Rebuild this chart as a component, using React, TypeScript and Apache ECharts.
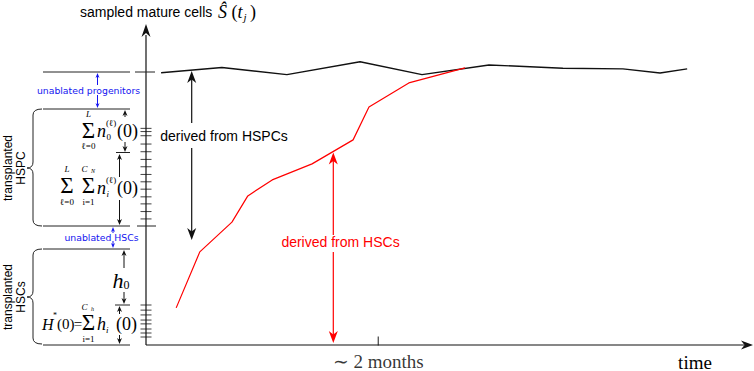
import React, { useEffect, useRef } from "react";
import * as echarts from "echarts";

// ---- data (time in days, cells in arbitrary units) ----
const timeBlack = [3.9, 19.6, 36.4, 55.3, 71.3, 88.6, 107.7, 123.2, 132.8, 139.8];
const cellsBlack = [85.1, 86.7, 84.5, 88.5, 84.5, 87.5, 86.5, 86.3, 85.0, 86.3];
const timeRed = [7.8, 13.9, 22.2, 26.3, 32.6, 42.9, 53.5, 57.6, 67.9, 82.4];
const cellsRed = [11.6, 29.1, 38.4, 46.6, 51.6, 56.6, 64.1, 74.4, 81.9, 86.6];
const hspcTicks = [67.7, 66.7, 65.4, 62.8, 60.4, 58.0, 55.7, 53.3, 51.0, 48.7, 46.3, 44.1, 41.7, 39.4];
const hscTicks = [12.5, 10.9, 9.4, 7.8, 6.6, 5.0, 3.75, 2.5];
const timeTicks = [60];
const timeTickLabels = ["\u223C 2 months"];

const SERIF = "Liberation Serif";
const SANS = "Liberation Sans";
const BLUE = "#1414f0";
const RED = "#ff0000";

const braceHSPC = "M42,109 Q33,109 33,115 L33,162 Q33,168 27,168 Q33,168 33,174 L33,220 Q33,226 42,226";
const braceHSC = "M42,249 Q33,249 33,255 L33,291 Q33,297 27,297 Q33,297 33,303 L33,338 Q33,344 42,344";

let registered = false;
function registerShapes() {
  if (registered) return;
  registered = true;
  echarts.graphic.registerShape("braceHSPC", echarts.graphic.extendPath(braceHSPC, {}));
  echarts.graphic.registerShape("braceHSC", echarts.graphic.extendPath(braceHSC, {}));
}

const ln = (x1: number, y1: number, x2: number, y2: number, stroke = "#111", lw = 1) => ({
  type: "line",
  silent: true,
  shape: { x1, y1, x2, y2 },
  style: { stroke, lineWidth: lw },
});

// vertical arrow head; dir = -1 points up, 1 points down
const headV = (x: number, tip: number, dir: number, len: number, w: number, fill: string) => ({
  type: "polygon",
  silent: true,
  shape: {
    points: [
      [x, tip],
      [x - w / 2, tip - dir * len],
      [x, tip - dir * len * 0.7],
      [x + w / 2, tip - dir * len],
    ],
  },
  style: { fill },
});

const vArrow = (
  x: number,
  top: number,
  bot: number,
  color: string,
  len: number,
  w: number,
  lw: number,
  gap?: [number, number]
) => {
  const a = top + len * 0.6;
  const b = bot - len * 0.6;
  const els: any[] = [headV(x, top, -1, len, w, color), headV(x, bot, 1, len, w, color)];
  if (gap) {
    els.push(ln(x, a, x, gap[0], color, lw));
    els.push(ln(x, gap[1], x, b, color, lw));
  } else {
    els.push(ln(x, a, x, b, color, lw));
  }
  return els;
};

const txt = (
  text: string,
  x: number,
  y: number,
  size: number,
  o: { family?: string; italic?: boolean; color?: string; align?: string; rotation?: number; lineHeight?: number } = {}
) => ({
  type: "text",
  silent: true,
  x,
  y,
  rotation: o.rotation ?? 0,
  style: {
    text,
    fontSize: size,
    fontFamily: o.family ?? SERIF,
    fontStyle: o.italic ? "italic" : "normal",
    fill: o.color ?? "#000",
    align: o.align ?? "center",
    verticalAlign: "middle",
    lineHeight: o.lineHeight,
  },
});

function buildGraphic() {
  const g: any[] = [];
  // axes
  g.push(ln(146, 345, 146, 35, "#111", 1.2));
  g.push(headV(146, 24, -1, 13, 9, "#111"));
  g.push(ln(146, 345, 744, 345, "#111", 1.2));
  g.push({
    type: "polygon",
    silent: true,
    shape: { points: [[753, 345], [741, 340.5], [744.5, 345], [741, 349.5]] },
    style: { fill: "#111" },
  });

  // reference level lines on the left
  const levels = [72, 109, 226, 249, 345];
  levels.forEach((y) => g.push(ln(43, y, 130, y, "#222", 1)));
  g.push(ln(135, 72, 155, 72, "#222", 1));
  g.push(ln(137, 226, 156, 226, "#222", 1));
  g.push(ln(116, 152.5, 130, 152.5, "#222", 1));
  g.push(ln(115, 305, 130, 305, "#222", 1));

  // braces
  g.push({ type: "braceHSPC", silent: true, style: { stroke: "#222", fill: "none", lineWidth: 1 } });
  g.push({ type: "braceHSC", silent: true, style: { stroke: "#222", fill: "none", lineWidth: 1 } });
  g.push(txt("transplanted\nHSPC", 14, 168, 12, { family: SANS, rotation: Math.PI / 2, lineHeight: 13 }));
  g.push(txt("transplanted\nHSCs", 14, 297, 12, { family: SANS, rotation: Math.PI / 2, lineHeight: 13 }));

  // blue arrows + labels
  g.push(...vArrow(97.5, 73, 108, BLUE, 5, 4, 1, [85, 95]));
  g.push(txt("unablated progenitors", 88.5, 90, 9.3, { family: "DejaVu Sans", color: BLUE }));
  g.push(...vArrow(113, 227, 248, BLUE, 5, 4, 1, [233, 241]));
  g.push(txt("unablated HSCs", 101.5, 237, 9.3, { family: "DejaVu Sans", color: BLUE }));

  // small black arrows
  g.push(...vArrow(125, 110, 152, "#111", 6, 5, 1, [117, 142]));
  g.push(...vArrow(119.5, 154, 225, "#111", 6, 5, 1, [177, 200]));
  g.push(...vArrow(124, 250, 304, "#111", 6, 5, 1, [268, 292]));
  g.push(...vArrow(119.5, 306, 344, "#111", 6, 5, 1, [314, 335]));

  // expression A: sum_{l=0}^{L} n_0^{(l)}(0)
  g.push(txt("\u03A3", 88.5, 130, 23, { lineHeight: 20 }));
  g.push(txt("L", 88.5, 113.5, 9, { italic: true }));
  g.push(txt("\u2113=0", 88.5, 146, 9));
  g.push(txt("n", 97, 131, 18, { italic: true, align: "left" }));
  g.push(txt("(\u2113)", 106, 122.5, 9, { align: "left" }));
  g.push(txt("0", 106.5, 136.5, 9, { align: "left" }));
  g.push(txt("(0)", 117, 131, 18, { align: "left" }));

  // expression B
  g.push(txt("\u03A3", 67, 185, 23, { lineHeight: 20 }));
  g.push(txt("L", 67, 169, 9, { italic: true }));
  g.push(txt("\u2113=0", 67, 201.5, 9));
  g.push(txt("\u03A3", 88.5, 185, 23, { lineHeight: 20 }));
  g.push(txt("C", 84.5, 169, 9, { italic: true }));
  g.push(txt("N", 91, 171, 6, { italic: true, align: "left" }));
  g.push(txt("i=1", 88.5, 201.5, 9));
  g.push(txt("n", 97, 188, 18, { italic: true, align: "left" }));
  g.push(txt("(\u2113)", 106, 179.5, 9, { align: "left" }));
  g.push(txt("i", 106.5, 193.5, 9, { italic: true, align: "left" }));
  g.push(txt("(0)", 117, 188, 18, { align: "left" }));

  // expression C: h_0
  g.push(txt("h", 118, 280, 22, { italic: true }));
  g.push(txt("0", 126.5, 285, 12));

  // expression D: H*(0) = sum h_i(0)
  g.push(txt("H", 42, 324, 16, { italic: true, align: "left" }));
  g.push(txt("*", 53, 315, 8, { align: "left" }));
  g.push(txt("(0)", 57, 324, 15, { align: "left" }));
  g.push(txt("=", 78, 324, 15));
  g.push(txt("\u03A3", 88.5, 322.5, 23, { lineHeight: 20 }));
  g.push(txt("C", 84.5, 306.5, 9, { italic: true }));
  g.push(txt("h", 91, 308.5, 6, { italic: true, align: "left" }));
  g.push(txt("i=1", 88.5, 338.5, 9));
  g.push(txt("h", 97, 324, 18, { italic: true, align: "left" }));
  g.push(txt("i", 106, 329.5, 9, { italic: true, align: "left" }));
  g.push(txt("(0)", 116, 324, 18, { align: "left" }));

  // in-plot arrows and labels
  g.push(...vArrow(191.7, 71, 240, "#111", 12, 9, 1.2, [123, 148]));
  g.push(txt("derived from HSPCs", 224, 136, 14, { family: SANS }));
  g.push(...vArrow(333.3, 152.5, 343, RED, 12, 9, 1.2, [235, 252]));
  g.push(txt("derived from HSCs", 340.5, 242, 14, { family: SANS, color: RED }));

  // title
  g.push(txt("sampled mature cells", 80, 12, 14, { family: SANS, align: "left" }));
  g.push(txt("\u015C", 218, 12, 18, { italic: true, align: "left" }));
  g.push(txt("(", 231.5, 12, 18, { align: "left" }));
  g.push(txt("t", 237.5, 12, 18, { italic: true, align: "left" }));
  g.push(txt("j", 243.5, 16.5, 11, { italic: true, align: "left" }));
  g.push(txt(")", 250, 12, 18, { align: "left" }));

  // x axis name
  g.push(txt("time", 695, 362, 19));
  return g;
}

export default function App() {
  const ref = useRef<HTMLDivElement>(null);
  useEffect(() => {
    if (!ref.current) return;
    registerShapes();
    const chart = echarts.init(ref.current, undefined, { renderer: "svg" });
    const blackData = timeBlack.map((t, i) => [t, cellsBlack[i]]);
    const redData = timeRed.map((t, i) => [t, cellsRed[i]]);
    const yTicks = [...hspcTicks, ...hscTicks].map((v) => [0, v]);
    const xTicks = timeTicks.map((t) => [t, 0]);
    chart.setOption({
      animation: false,
      backgroundColor: "#fff",
      grid: { left: 146, top: 25, width: 600, height: 320 },
      xAxis: { type: "value", min: 0, max: 155, show: false },
      yAxis: { type: "value", min: 0, max: 100, show: false },
      series: [
        {
          type: "line",
          data: blackData,
          symbol: "none",
          lineStyle: { color: "#111", width: 1.4 },
          z: 3,
        },
        {
          type: "line",
          data: redData,
          symbol: "none",
          lineStyle: { color: RED, width: 1.2 },
          z: 4,
        },
        {
          type: "scatter",
          data: yTicks,
          symbol: "rect",
          symbolSize: [11, 1],
          itemStyle: { color: "#111" },
          clip: false,
          silent: true,
        },
        {
          type: "scatter",
          data: xTicks,
          symbol: "rect",
          symbolSize: [1.2, 9],
          symbolOffset: [0, -4],
          itemStyle: { color: "#111" },
          clip: false,
          silent: true,
          label: {
            show: true,
            position: "bottom",
            distance: 6,
            formatter: (p: any) => timeTickLabels[p.dataIndex],
            fontFamily: SERIF,
            fontSize: 19,
            color: "#000",
          },
        },
      ],
      graphic: buildGraphic(),
    });
    return () => chart.dispose();
  }, []);
  return (
    <div
      ref={ref}
      style={{ position: "fixed", left: 0, top: 0, width: 754, height: 371, background: "#fff" }}
    />
  );
}
